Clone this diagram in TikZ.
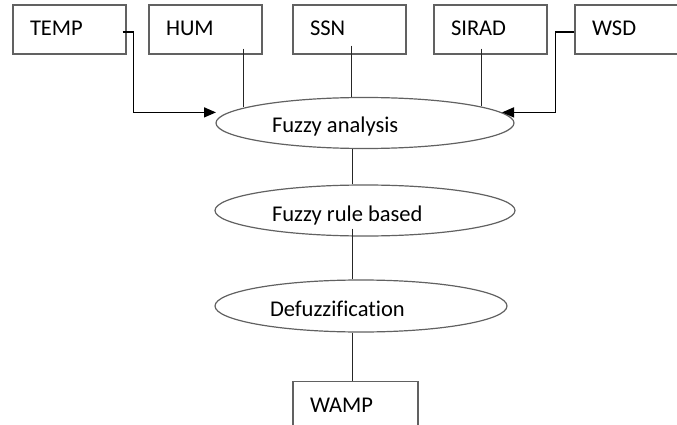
\documentclass[tikz,border=0pt]{standalone}
\usepackage{fontspec}
\setmainfont[Ligatures=NoCommon]{Carlito}
\usetikzlibrary{shapes.geometric,arrows.meta}
\newcommand{\leftset}[2]{\makebox[0pt][l]{\hspace*{-#1}#2}}
\begin{document}
\begin{tikzpicture}[x=1pt,y=-1pt,
  every node/.style={font=\fontsize{22.5}{26}\selectfont},
  box/.style={draw=black!62,line width=1.2pt,rectangle,minimum height=49pt,
    text width=79pt,inner xsep=17pt,inner ysep=0pt,align=left,text height=13pt,text depth=0pt},
  oval/.style={draw=black!62,line width=1.2pt,ellipse,inner sep=0pt,text depth=0pt},
  conn/.style={draw=black!85,line width=1pt},
  arr/.style={draw=black,line width=1.4pt,-{Triangle[length=12pt,width=10pt]}}]
\useasboundingbox (0,0) rectangle (677,425);
\clip (0,0) rectangle (677,425);
% boxes
\node[box] (temp) at (69.5,29.5) {TEMP};
\node[box] (hum) at (205.5,29.5) {HUM};
\node[box] (ssn) at (349.5,29.5) {SSN};
\node[box] (sirad) at (490.5,29.5) {SIRAD};
\node[box] (wsd) at (631.5,29.5) {WSD};
\node[box,minimum width=125pt,text width=91pt] (wamp) at (355.5,406) {WAMP};
% ellipses
\node[oval,minimum width=298pt,minimum height=51pt,text height=18pt] (fa) at (365,123)
  {\leftset{93pt}{Fuzzy analysis}};
\node[oval,minimum width=300pt,minimum height=51pt,text height=22pt] (fr) at (365,210.5)
  {\leftset{93pt}{Fuzzy rule based}};
\node[oval,minimum width=292pt,minimum height=52pt,text height=21pt] (df) at (361,306)
  {\leftset{91pt}{Defuzzification}};
% arrow end points
\coordinate (tl) at ([xshift=-149pt,yshift=-15.5pt]fa.north);
\coordinate (tr) at ([xshift=137pt,yshift=-15.5pt]fa.north);
% connectors
\draw[arr] ([xshift=-4pt,yshift=-2.5pt]temp.east) -- ++(11,0) |- (tl);
\draw[arr] ([yshift=-2.5pt]wsd.west) -- ++(-19,0) |- (tr);
\draw[conn] ([xshift=37.5pt,yshift=6pt]hum.south) -- ([xshift=-122pt,yshift=-10pt]fa.north);
\draw[conn] ([xshift=1.5pt,yshift=9pt]ssn.south) -- ([xshift=-14pt]fa.north);
\draw[conn] ([xshift=-9.5pt,yshift=6pt]sirad.south) -- ([xshift=116pt,yshift=-9pt]fa.north);
\draw[conn] ([xshift=-13pt]fa.south) -- ([xshift=-13pt]fr.north);
\draw[conn] ([xshift=-13pt,yshift=8pt]fr.south) -- ([xshift=-9pt]df.north);
\draw[conn] ([xshift=-9pt]df.south) -- ([xshift=-3.5pt]wamp.north);
\end{tikzpicture}
\end{document}
